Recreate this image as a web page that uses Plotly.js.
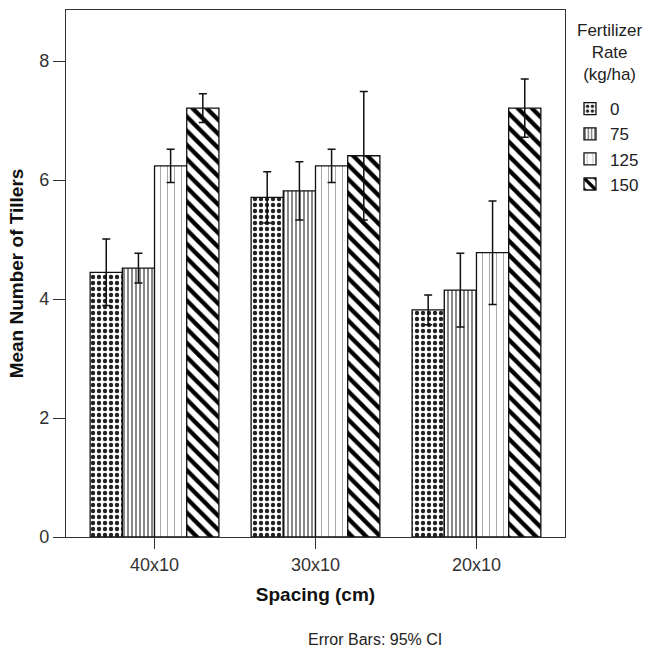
<!DOCTYPE html>
<html>
<head>
<meta charset="utf-8">
<script src="https://cdn.plot.ly/plotly-3.0.1.min.js"></script>
<style>html,body{margin:0;padding:0;background:#fff;}#chart{width:654px;height:650px;}</style>
</head>
<body>
<div id="chart"></div>
<script>
var spacing = ["40x10", "30x10", "20x10"];
var rates = ["0", "75", "125", "150"];
var means = {
  "0":   [4.45, 5.71, 3.82],
  "75":  [4.52, 5.82, 4.15],
  "125": [6.24, 6.24, 4.78],
  "150": [7.21, 6.41, 7.21]
};
var ci = {
  "0":   [0.56, 0.43, 0.25],
  "75":  [0.25, 0.49, 0.62],
  "125": [0.28, 0.28, 0.87],
  "150": [0.24, 1.08, 0.49]
};
var legendTitle = "Fertilizer<br>Rate<br>(kg/ha)";
var patterns = {
  "0":   {shape: ".", size: 6, solidity: 0.42, fgcolor: "#222", bgcolor: "#fff"},
  "75":  {shape: "|", size: 4, solidity: 0.35, fgcolor: "#555", bgcolor: "#fff"},
  "125": {shape: "|", size: 7, solidity: 0.12, fgcolor: "#999", bgcolor: "#fff"},
  "150": {shape: "\\", size: 10, solidity: 0.42, fgcolor: "#000", bgcolor: "#fff"}
};
var font = "Liberation Sans, Arial, sans-serif";
var traces = rates.map(function (r) {
  return {
    type: "bar",
    name: r,
    x: spacing,
    y: means[r],
    error_y: {type: "data", array: ci[r], visible: true, color: "#111", thickness: 1.5, width: 4},
    marker: {color: "#fff", line: {color: "#111", width: 1.3}, pattern: patterns[r]}
  };
});
var layout = {
  width: 654, height: 650,
  margin: {l: 66, r: 83, t: 10, b: 113},
  paper_bgcolor: "#fff", plot_bgcolor: "#fff",
  barmode: "group", bargap: 0.2, bargroupgap: 0,
  font: {family: font, size: 17, color: "#222"},
  xaxis: {
    type: "category", range: [-0.55, 2.55],
    showline: true, linecolor: "#333", linewidth: 1.2, mirror: true,
    ticks: "outside", ticklen: 11, tickcolor: "#333",
    tickfont: {family: font, size: 18, color: "#333"},
    title: {text: "<b>Spacing (cm)</b>", font: {family: font, size: 19, color: "#111"}, standoff: 14}
  },
  yaxis: {
    range: [0, 8.86], dtick: 2, tick0: 0, showgrid: false, zeroline: false,
    showline: true, linecolor: "#333", linewidth: 1.2, mirror: true,
    ticks: "outside", ticklen: 12, tickcolor: "#333",
    tickfont: {family: font, size: 18, color: "#333"},
    title: {text: "<b>Mean Number of Tillers</b>", font: {family: font, size: 19, color: "#111"}, standoff: 10}
  },
  legend: {
    x: 1.01, y: 0.846, xanchor: "left", yanchor: "top",
    font: {family: font, size: 17, color: "#222"},
    bgcolor: "rgba(0,0,0,0)", itemwidth: 30, traceorder: "normal"
  },
  annotations: [{
    text: legendTitle, xref: "paper", yref: "paper",
    x: 1.091, y: 0.983, xanchor: "center", yanchor: "top", align: "center", showarrow: false,
    font: {family: font, size: 17, color: "#222"}
  }, {
    text: "Error Bars: 95% CI", xref: "paper", yref: "paper",
    x: 0.62, y: -0.195, xanchor: "center", yanchor: "middle", showarrow: false,
    font: {family: font, size: 16, color: "#222"}
  }]
};
Plotly.newPlot("chart", traces, layout, {displayModeBar: false, staticPlot: true});
</script>
</body>
</html>
